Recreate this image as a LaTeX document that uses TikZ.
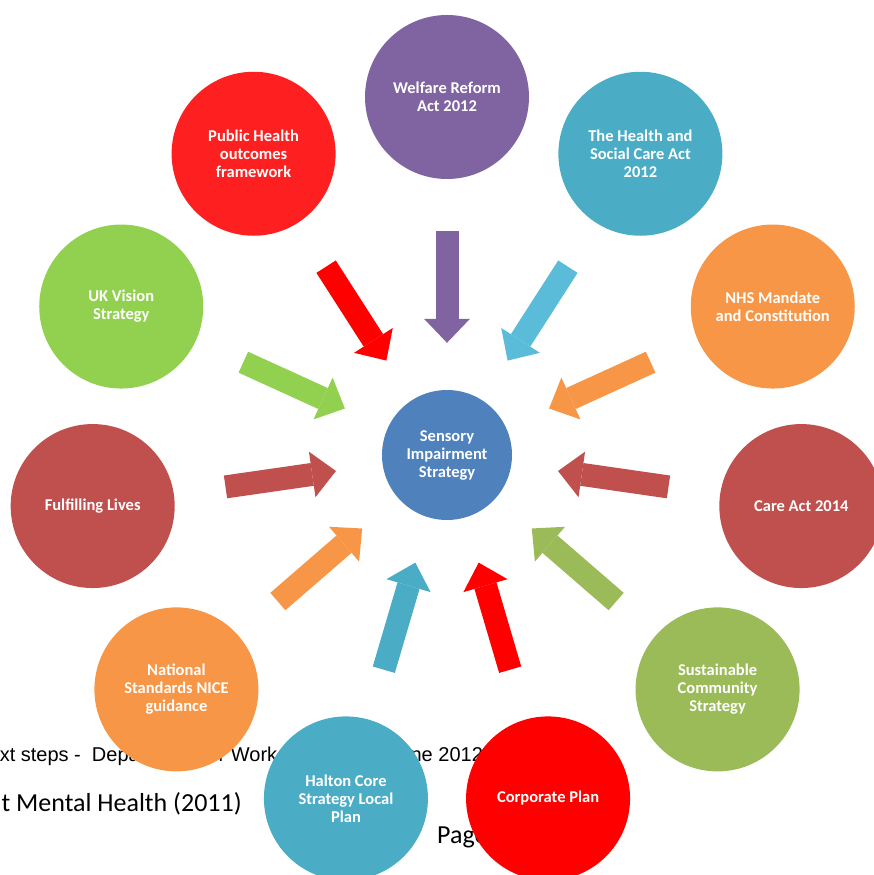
\documentclass[tikz,border=0pt]{standalone}
\usepackage{fontspec}
\setmainfont{Carlito}
\newfontfamily\arialfont{Liberation Sans}
\usetikzlibrary{arrows.meta}

\definecolor{siblue}{HTML}{4F81BD}
\definecolor{wrpurple}{HTML}{8064A2}
\definecolor{actteal}{HTML}{4BACC6}
\definecolor{actsky}{HTML}{5ABCD8}
\definecolor{nhsorange}{HTML}{F79646}
\definecolor{caremaroon}{HTML}{C0504D}
\definecolor{commolive}{HTML}{9BBB59}
\definecolor{corpred}{HTML}{FF0000}
\definecolor{phred}{HTML}{FE2020}
\definecolor{visionlime}{HTML}{92D050}

\tikzset{
  policy/.style={circle, minimum size=164pt, inner sep=0pt, text=white,
    align=center, font=\bfseries\fontsize{16.5}{18}\selectfont},
  feed/.style={line width=23pt,
    -{Triangle[width=46pt, length=24pt, line width=0pt]},
    shorten <=52pt, shorten >=47pt},
}

\begin{document}
\begin{tikzpicture}[x=1pt, y=1pt]
    \useasboundingbox (-447,-420) rectangle (427,455);
    % page text underneath
    \node[anchor=base west, inner sep=0pt, font=\arialfont\fontsize{20}{24}\selectfont] (nextsteps)
        at (-473,-306) {Next steps -~ Department for Work \& Pensions June 2012};
    \node[anchor=base east, inner sep=0pt, font=\fontsize{26}{31}\selectfont] (nohealth)
        at (-205,-356) {No Health Without Mental Health (2011)};
    \node[anchor=base west, inner sep=0pt, font=\fontsize{26}{31}\selectfont] (pagenum)
        at (-10,-388) {Page 12};

    \node[policy, fill=siblue, minimum size=130pt] (sis) at (0,0) {Sensory\\Impairment\\Strategy};

    \node[policy, fill=wrpurple] (welfare) at (90:358) {Welfare Reform\\Act 2012};
    \node[policy, fill=actteal] (hsc) at (57.3:358) {The Health and\\Social Care Act\\2012};
    \node[policy, fill=nhsorange] (nhs) at (24.5:358) {NHS Mandate\\and Constitution};
    \node[policy, fill=caremaroon] (careact) at (-8.2:358) {Care Act 2014};
    \node[policy, fill=commolive] (community) at (-40.9:358) {Sustainable\\Community\\Strategy};
    \node[policy, fill=corpred] (corporate) at (-73.6:358) {Corporate Plan};
    \node[policy, fill=actteal] (halton) at (-106.4:358) {Halton Core\\Strategy Local\\Plan};
    \node[policy, fill=nhsorange] (nice) at (-139.1:358) {National\\Standards NICE\\guidance};
    \node[policy, fill=caremaroon] (fulfil) at (-171.8:358) {Fulfilling Lives};
    \node[policy, fill=visionlime] (ukvision) at (155.5:358) {UK Vision\\Strategy};
    \node[policy, fill=phred] (pubhealth) at (122.7:358) {Public Health\\outcomes\\framework};

    \draw[feed, wrpurple] (welfare) -- (sis);
    \draw[feed, actsky] (hsc) -- (sis);
    \draw[feed, nhsorange] (nhs) -- (sis);
    \draw[feed, caremaroon] (careact) -- (sis);
    \draw[feed, commolive] (community) -- (sis);
    \draw[feed, corpred] (corporate) -- (sis);
    \draw[feed, actteal] (halton) -- (sis);
    \draw[feed, nhsorange] (nice) -- (sis);
    \draw[feed, caremaroon] (fulfil) -- (sis);
    \draw[feed, visionlime] (ukvision) -- (sis);
    \draw[feed, corpred] (pubhealth) -- (sis);
\end{tikzpicture}
\end{document}
